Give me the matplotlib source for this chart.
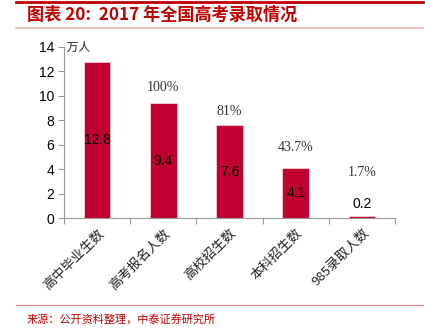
import matplotlib
matplotlib.use("Agg")
import matplotlib.pyplot as plt
from matplotlib.lines import Line2D

plt.rcParams['font.family'] = ['Noto Sans CJK SC', 'DejaVu Sans']

categories = ["高中毕业生数", "高考报名人数", "高校招生数", "本科招生数", "985录取人数"]
values = [12.8, 9.4, 7.6, 4.1, 0.2]
value_labels = ["12.8", "9.4", "7.6", "4.1", "0.2"]
pct_labels = ["", "100%", "81%", "43.7%", "1.7%"]
pct_y = [None, 10.65, 8.7, 5.8, 3.7]
yticks = [0, 2, 4, 6, 8, 10, 12, 14]

red = "#C00000"
bar_color = "#C0002E"

fig = plt.figure(figsize=(4.25, 3.33), dpi=100)
ax = fig.add_axes([64/425, 1-218/333, 331/425, 171/333])

x = list(range(len(categories)))
ax.bar(x, values, width=0.4, color=bar_color, edgecolor="#F4D0D6", linewidth=0.6)
ax.set_xlim(-0.5, len(categories)-0.5)
ax.set_ylim(0, 14)
ax.set_yticks(yticks)
ax.set_yticklabels([str(t) for t in yticks], fontfamily="Liberation Sans", fontsize=10)

ax.set_xticks([i + 0.5 for i in range(-1, len(categories))], minor=False)
ax.set_xticklabels([])
ax.set_xticks(x, minor=True)
ax.set_xticklabels(categories, minor=True, rotation=45, ha="right", va="top",
                   rotation_mode="anchor", fontsize=9.5, color="#222222")
ax.tick_params(axis="x", which="minor", length=0, pad=6)
ax.tick_params(axis="x", which="major", length=4, color="#999999", direction="out")
ax.tick_params(axis="y", length=4, color="#999999", direction="out", pad=3)

for s in ["top", "right"]:
    ax.spines[s].set_visible(False)
for s in ["left", "bottom"]:
    ax.spines[s].set_color("#999999")
    ax.spines[s].set_linewidth(0.8)

for i, (v, lab) in enumerate(zip(values, value_labels)):
    if v > 1:
        ax.text(i, v/2, lab, ha="center", va="center", fontsize=10,
                fontfamily="Liberation Sans", color="black")
    else:
        ax.text(i, v + 0.4, lab, ha="center", va="bottom", fontsize=10,
                fontfamily="Liberation Sans", color="black")

for i, (p, py) in enumerate(zip(pct_labels, pct_y)):
    if p:
        ax.text(i, py, p, ha="center", va="center", fontsize=10,
                fontfamily="Liberation Serif", color="#333333")

ax.text(-0.5, 14, " 万人", ha="left", va="center", fontsize=8.5, color="#222222")

# Decorations
fig.add_artist(Line2D([16/425, 423/425], [1-2/333, 1-2/333], color=red, lw=2))
fig.add_artist(Line2D([16/425, 423/425], [1-28/333, 1-28/333], color="#F2B8B8", lw=1.2))
fig.add_artist(Line2D([16/425, 423/425], [1-305/333, 1-305/333], color="#E08080", lw=0.8))
fig.text(27/425, 1-15/333, "图表 20:  2017 年全国高考录取情况", color=red,
         fontsize=12.3, fontweight="bold", ha="left", va="center")
fig.text(27/425, 1-319/333, "来源：公开资料整理，中泰证券研究所", color=red,
         fontsize=8, ha="left", va="center")

fig.savefig("out.png", dpi=100)
